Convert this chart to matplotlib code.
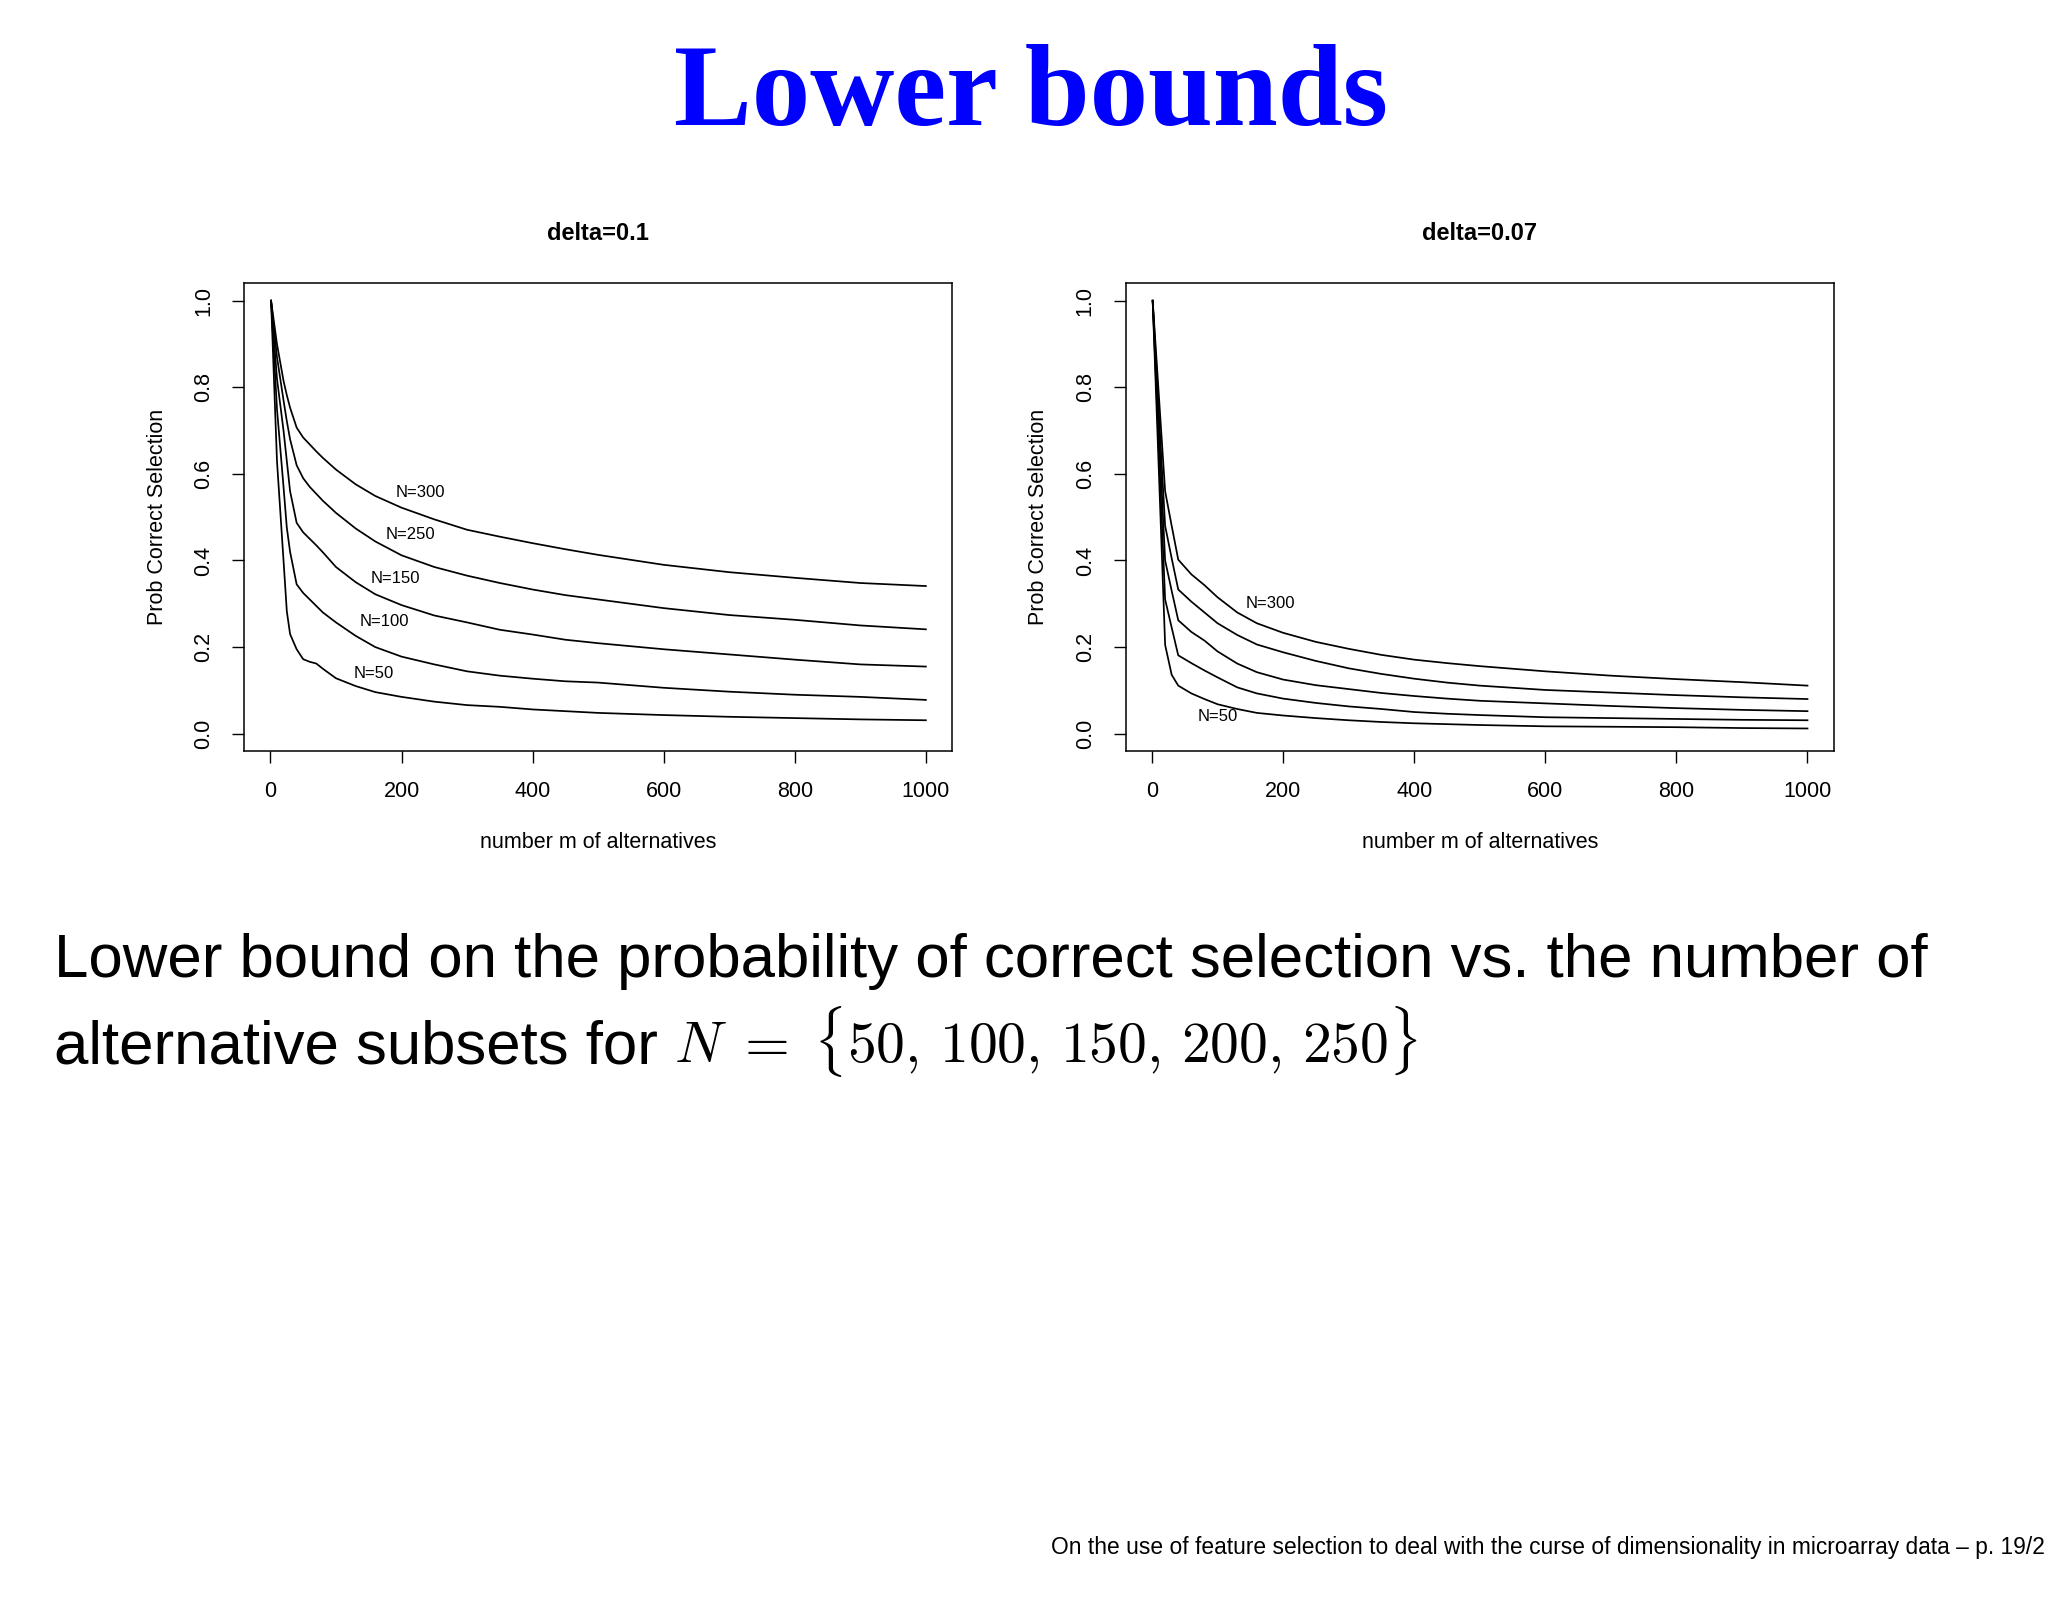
import matplotlib
matplotlib.use("Agg")
import matplotlib.pyplot as plt

plt.rcParams['font.family'] = ['Liberation Sans', 'DejaVu Sans']
plt.rcParams['mathtext.fontset'] = 'cm'

# ---------------- data ----------------
left_m = [1, 10, 20, 25, 30, 40, 50, 60, 70, 80, 100, 130, 160, 200, 250, 300,
          350, 400, 450, 500, 600, 700, 800, 900, 1000]
right_m = [1, 20, 30, 40, 60, 80, 100, 130, 160, 200, 250, 300, 350, 400, 450,
           500, 600, 700, 800, 900, 1000]

series_names = ["N=300", "N=250", "N=150", "N=100", "N=50"]

left_N300 = [1.0, 0.90, 0.815, 0.782, 0.753, 0.707, 0.684, 0.668, 0.652, 0.637,
             0.610, 0.576, 0.549, 0.522, 0.495, 0.471, 0.455, 0.440, 0.426,
             0.413, 0.390, 0.373, 0.360, 0.348, 0.341]
left_N250 = [1.0, 0.87, 0.77, 0.722, 0.680, 0.620, 0.590, 0.570, 0.554, 0.538,
             0.510, 0.474, 0.444, 0.412, 0.385, 0.365, 0.348, 0.333, 0.320,
             0.310, 0.290, 0.274, 0.263, 0.250, 0.241]
left_N150 = [1.0, 0.82, 0.70, 0.630, 0.560, 0.487, 0.465, 0.450, 0.435, 0.419,
             0.385, 0.350, 0.322, 0.297, 0.273, 0.257, 0.240, 0.229, 0.217,
             0.209, 0.195, 0.183, 0.171, 0.160, 0.155]
left_N100 = [1.0, 0.75, 0.57, 0.476, 0.420, 0.345, 0.325, 0.310, 0.295, 0.280,
             0.257, 0.226, 0.200, 0.178, 0.160, 0.144, 0.134, 0.127, 0.121,
             0.118, 0.106, 0.097, 0.090, 0.085, 0.078]
left_N50 = [1.0, 0.63, 0.40, 0.283, 0.230, 0.195, 0.172, 0.166, 0.162, 0.150,
            0.128, 0.110, 0.096, 0.085, 0.074, 0.066, 0.062, 0.056, 0.052,
            0.048, 0.043, 0.039, 0.036, 0.033, 0.031]

right_N300 = [1.0, 0.56, 0.48, 0.402, 0.368, 0.343, 0.315, 0.280, 0.255, 0.233,
              0.212, 0.196, 0.182, 0.171, 0.163, 0.156, 0.144, 0.134, 0.126,
              0.119, 0.111]
right_N250 = [1.0, 0.48, 0.405, 0.333, 0.305, 0.280, 0.255, 0.228, 0.206, 0.188,
              0.168, 0.151, 0.138, 0.127, 0.118, 0.111, 0.101, 0.095, 0.089,
              0.084, 0.080]
right_N150 = [1.0, 0.40, 0.330, 0.262, 0.235, 0.215, 0.190, 0.162, 0.142, 0.125,
              0.112, 0.103, 0.094, 0.087, 0.081, 0.076, 0.070, 0.064, 0.059,
              0.055, 0.052]
right_N100 = [1.0, 0.31, 0.245, 0.181, 0.163, 0.146, 0.130, 0.107, 0.093, 0.081,
              0.071, 0.063, 0.057, 0.050, 0.046, 0.043, 0.038, 0.036, 0.034,
              0.032, 0.031]
right_N50 = [1.0, 0.205, 0.136, 0.111, 0.093, 0.080, 0.068, 0.057, 0.048, 0.042,
             0.036, 0.031, 0.027, 0.024, 0.022, 0.020, 0.017, 0.016, 0.015,
             0.013, 0.012]

left_series = [left_N300, left_N250, left_N150, left_N100, left_N50]
right_series = [right_N300, right_N250, right_N150, right_N100, right_N50]

# label positions (data coords)
left_labels = ["N=300", "N=250", "N=150", "N=100", "N=50"]
left_label_x = [229, 214, 190, 174, 158]
left_label_y = [0.558, 0.459, 0.359, 0.259, 0.139]
right_labels = ["N=300", "N=50"]
right_label_x = [180, 100]
right_label_y = [0.300, 0.040]

panel_titles = ["delta=0.1", "delta=0.07"]
x_ticks = [0, 200, 400, 600, 800, 1000]
y_ticks = [0.0, 0.2, 0.4, 0.6, 0.8, 1.0]
x_label = "number m of alternatives"
y_label = "Prob Correct Selection"

# ---------------- figure ----------------
W, H = 2048, 1617
fig = plt.figure(figsize=(W / 100, H / 100), dpi=100)
fig.patch.set_facecolor("white")

def fx(px):
    return px / W

def fy(py):
    return 1 - py / H

ax_left_px = [244.2, 1125.8]
ax_w_px = 707.9
ax_top_px, ax_bot_px = 283.4, 751.0

panels = [
    (left_m, left_series, left_labels, left_label_x, left_label_y),
    (right_m, right_series, right_labels, right_label_x, right_label_y),
]

for i, (mx, series, labs, lx, ly) in enumerate(panels):
    x0 = ax_left_px[i]
    ax = fig.add_axes([fx(x0), fy(ax_bot_px), ax_w_px / W, (ax_bot_px - ax_top_px) / H])
    for ys in series:
        ax.plot(mx, ys, color="black", lw=1.25)
    for t, x, y in zip(labs, lx, ly):
        ax.text(x, y, t, fontsize=12, ha="center", va="center")
    ax.set_xlim(-40, 1040)
    ax.set_ylim(-0.04, 1.04)
    ax.set_xticks(x_ticks)
    ax.set_xticklabels([str(v) for v in x_ticks])
    ax.set_yticks(y_ticks)
    ax.set_yticklabels([f"{v:.1f}" for v in y_ticks], rotation=90, va="center")
    ax.tick_params(direction="out", length=8.6, width=1.0, labelsize=15.5, pad=13)
    for sp in ax.spines.values():
        sp.set_linewidth(1.1)
    cx = x0 + ax_w_px / 2
    fig.text(fx(cx), fy(234), panel_titles[i], fontsize=17, fontweight="bold",
             ha="center", va="center")
    fig.text(fx(cx), fy(842), x_label, fontsize=15.5, ha="center", va="center")
    fig.text(fx(x0 - 87), fy((ax_top_px + ax_bot_px) / 2), y_label, fontsize=15.5,
             rotation=90, ha="center", va="center")

# slide title
fig.text(fx(1031.5), fy(125), "Lower bounds", fontsize=84, fontweight="bold",
         family=["Liberation Serif", "DejaVu Serif"], color="#0000FF",
         ha="center", va="baseline")

# body text
fig.text(fx(54), fy(977), "Lower bound on the probability of correct selection vs. the number of",
         fontsize=44.5, ha="left", va="baseline")
fig.text(fx(54), fy(1063), "alternative subsets for",
         fontsize=44.5, ha="left", va="baseline")
fig.text(fx(674), fy(1063), r"$N\;=\;\{50,\,100,\,150,\,200,\,250\}$",
         fontsize=41.5, ha="left", va="baseline")

# footer
fig.text(fx(1051), fy(1554),
         "On the use of feature selection to deal with the curse of dimensionality in microarray data \u2013 p. 19/2",
         fontsize=16.4, ha="left", va="baseline")

fig.savefig("out.png", dpi=100, facecolor="white")
